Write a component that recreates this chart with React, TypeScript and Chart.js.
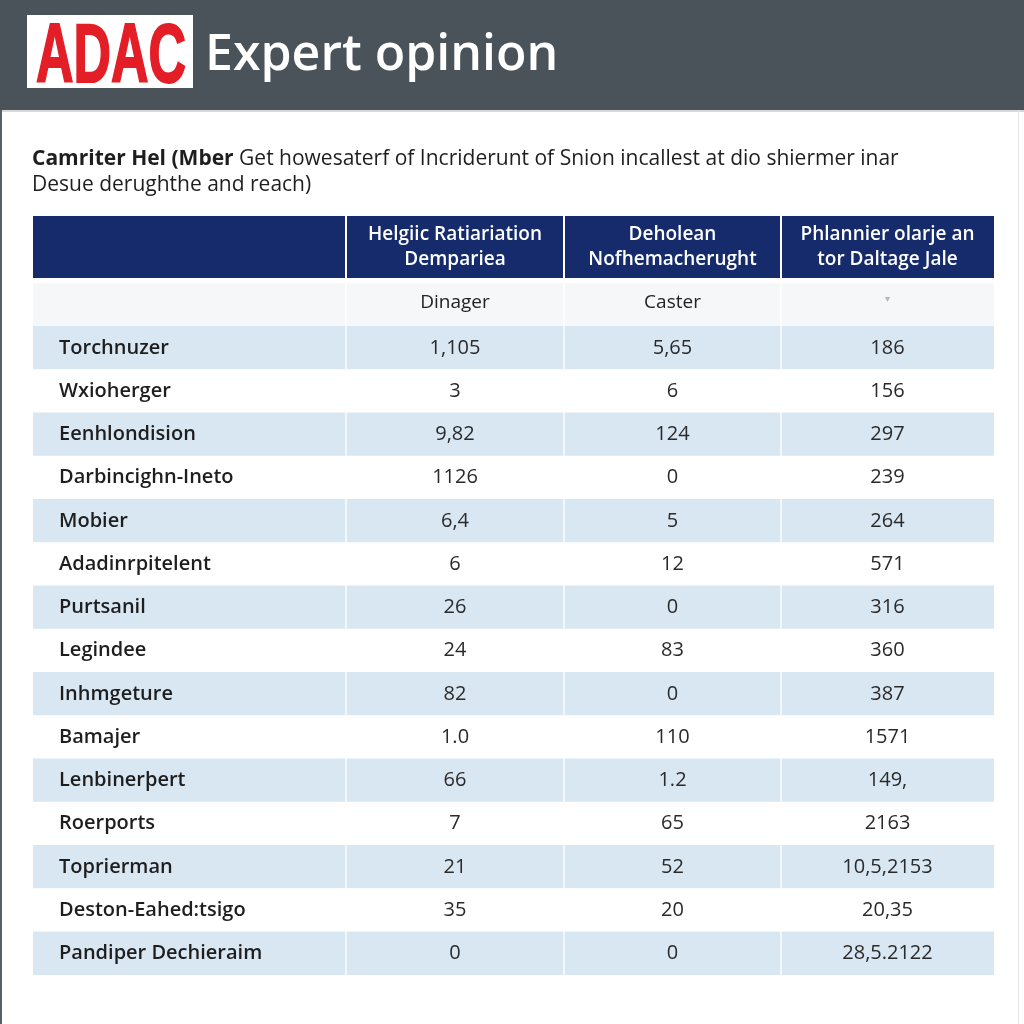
import React, { useEffect, useRef } from "react";
import { Chart, registerables } from "chart.js";

Chart.register(...registerables);

// ---- data ----
const logoText = "ADAC";
const titleText = "Expert opinion";
const subtitleBold = "Camriter Hel (Mber";
const subtitleRest = " Get howesaterf of Incriderunt of Snion incallest at dio shiermer inar";
const subtitleLine2 = "Desue derughthe and reach)";

const headerLine1 = ["", "Helgiic Ratiariation", "Deholean", "Phlannier olarje an"];
const headerLine2 = ["", "Dempariea", "Nofhemacherught", "tor Daltage Jale"];
const subHeaders = ["", "Dinager", "Caster", "\u25BE"];

const rowLabels = [
  "Torchnuzer",
  "Wxioherger",
  "Eenhlondision",
  "Darbincighn-Ineto",
  "Mobier",
  "Adadinrpitelent",
  "Purtsanil",
  "Legindee",
  "Inhmgeture",
  "Bamajer",
  "Lenbinerþert",
  "Roerports",
  "Toprierman",
  "Deston-Eahed:tsigo",
  "Pandiper Dechieraim",
];
const col1Values = ["1,105", "3", "9,82", "1126", "6,4", "6", "26", "24", "82", "1.0", "66", "7", "21", "35", "0"];
const col2Values = ["5,65", "6", "124", "0", "5", "12", "0", "83", "0", "110", "1.2", "65", "52", "20", "0"];
const col3Values = ["186", "156", "297", "239", "264", "571", "316", "360", "387", "1571", "149,", "2163", "10,5,2153", "20,35", "28,5.2122"];

// ---- layout (not data) ----
const COL_WEIGHTS = [313, 218, 217, 213];
const FONT = "'Open Sans', 'Noto Sans', sans-serif";

export default function App() {
  const ref = useRef<HTMLCanvasElement | null>(null);

  useEffect(() => {
    const canvas = ref.current;
    if (!canvas) return;
    document.body.style.margin = "0";

    const edges: number[] = [0];
    COL_WEIGHTS.forEach((w) => edges.push(edges[edges.length - 1] + w));
    const total = edges[edges.length - 1];

    const yLabels = ["__sub__", ...rowLabels];
    const rowColors = yLabels.map((_, i) => (i === 0 ? "#f6f7f8" : i % 2 === 1 ? "#d9e7f3" : "#ffffff"));
    const columnValues = [rowLabels, col1Values, col2Values, col3Values];

    const datasets = COL_WEIGHTS.map((_, c) => ({
      label: "col" + c,
      data: yLabels.map(() => [edges[c] + (c > 0 ? 1 : 0), edges[c + 1] - (c < 3 ? 1 : 0)] as [number, number]),
      backgroundColor: rowColors,
      borderWidth: 0,
      borderSkipped: false,
      grouped: false,
      barPercentage: 1,
      categoryPercentage: 1,
    }));

    const tablePlugin = {
      id: "tablePlugin",
      beforeDraw(chart: any) {
        const ctx = chart.ctx as CanvasRenderingContext2D;
        const { width, height } = chart;
        const xs = chart.scales.x;
        ctx.save();
        ctx.fillStyle = "#ffffff";
        ctx.fillRect(0, 0, width, height);
        // banner
        ctx.fillStyle = "#4b535a";
        ctx.fillRect(0, 0, width, 110);
        ctx.fillStyle = "#d6d8da";
        ctx.fillRect(0, 110, width, 2);
        // borders
        ctx.fillStyle = "#5a5f63";
        ctx.fillRect(0, 110, 2, height - 110);
        ctx.fillStyle = "#e4e4e4";
        ctx.fillRect(width - 6, 110, 1, height - 110);
        // logo
        ctx.fillStyle = "#ffffff";
        ctx.fillRect(27, 15, 166, 73);
        ctx.fillStyle = "#e31e27";
        ctx.strokeStyle = "#e31e27";
        ctx.lineWidth = 2;
        ctx.font = `bold 84px 'Liberation Sans', Arial, sans-serif`;
        ctx.textBaseline = "alphabetic";
        ctx.textAlign = "left";
        const lw = ctx.measureText(logoText).width;
        ctx.save();
        ctx.translate(36, 82);
        ctx.scale(150 / lw, 1.0);
        ctx.fillText(logoText, 0, 0);
        ctx.strokeText(logoText, 0, 0);
        ctx.restore();
        // title
        ctx.fillStyle = "#ffffff";
        ctx.font = `600 50px ${FONT}`;
        ctx.fillText(titleText, 205, 70);
        // subtitle
        ctx.fillStyle = "#1e1e1e";
        ctx.font = `bold 21px ${FONT}`;
        ctx.fillText(subtitleBold, 32, 165);
        const bw = ctx.measureText(subtitleBold).width;
        ctx.font = `21px ${FONT}`;
        ctx.fillText(subtitleRest, 32 + bw, 165);
        ctx.fillText(subtitleLine2, 32, 191);
        // header row
        const hTop = 216;
        const hBot = 278;
        ctx.fillStyle = "#152b6c";
        for (let c = 0; c < COL_WEIGHTS.length; c++) {
          const x0 = xs.getPixelForValue(edges[c] + (c > 0 ? 1 : 0));
          const x1 = xs.getPixelForValue(edges[c + 1] - (c < 3 ? 1 : 0));
          ctx.fillRect(x0, hTop, x1 - x0, hBot - hTop);
        }
        ctx.fillStyle = "#ffffff";
        ctx.font = `600 19px ${FONT}`;
        ctx.textAlign = "center";
        ctx.textBaseline = "middle";
        const hMid = (hTop + hBot) / 2;
        for (let c = 1; c < COL_WEIGHTS.length; c++) {
          const cx = xs.getPixelForValue((edges[c] + edges[c + 1]) / 2);
          ctx.fillText(headerLine1[c], cx, hMid - 12);
          ctx.fillText(headerLine2[c], cx, hMid + 13);
        }
        ctx.restore();
      },
      afterDatasetsDraw(chart: any) {
        const ctx = chart.ctx as CanvasRenderingContext2D;
        const xs = chart.scales.x;
        const ys = chart.scales.y;
        ctx.save();
        ctx.textBaseline = "middle";
        // sub header
        for (let c = 1; c < 4; c++) {
          const cx = xs.getPixelForValue((edges[c] + edges[c + 1]) / 2);
          const cy = ys.getPixelForValue(0);
          ctx.textAlign = "center";
          if (c === 3) {
            ctx.fillStyle = "#b5b5b5";
            ctx.font = `10px ${FONT}`;
            ctx.fillText(subHeaders[c], cx, cy - 5);
          } else {
            ctx.fillStyle = "#222222";
            ctx.font = `19px ${FONT}`;
            ctx.fillText(subHeaders[c], cx, cy - 2);
          }
        }
        // body
        rowLabels.forEach((_, r) => {
          const cy = ys.getPixelForValue(r + 1);
          for (let c = 0; c < 4; c++) {
            const text = columnValues[c][r];
            if (c === 0) {
              ctx.textAlign = "left";
              ctx.fillStyle = "#1e1e1e";
              ctx.font = `600 20px ${FONT}`;
              ctx.fillText(text, xs.getPixelForValue(edges[0]) + 26, cy);
            } else {
              ctx.textAlign = "center";
              ctx.fillStyle = "#2a2a2a";
              ctx.font = `20px ${FONT}`;
              ctx.fillText(text, xs.getPixelForValue((edges[c] + edges[c + 1]) / 2), cy);
            }
          }
        });
        ctx.restore();
      },
    };

    const chart = new Chart(canvas, {
      type: "bar",
      data: { labels: yLabels, datasets: datasets as any },
      options: {
        indexAxis: "y",
        responsive: false,
        animation: false,
        layout: { padding: { left: 33, right: 30, top: 283, bottom: 49 } },
        scales: {
          x: { type: "linear", min: 0, max: total, display: false },
          y: { type: "category", display: false, offset: true },
        },
        plugins: { legend: { display: false }, tooltip: { enabled: false } },
      },
      plugins: [tablePlugin],
    });
    return () => chart.destroy();
  }, []);

  return (
    <div style={{ position: "absolute", left: 0, top: 0, width: 1024, height: 1024 }}>
      <canvas ref={ref} width={1024} height={1024} style={{ display: "block" }} />
    </div>
  );
}
